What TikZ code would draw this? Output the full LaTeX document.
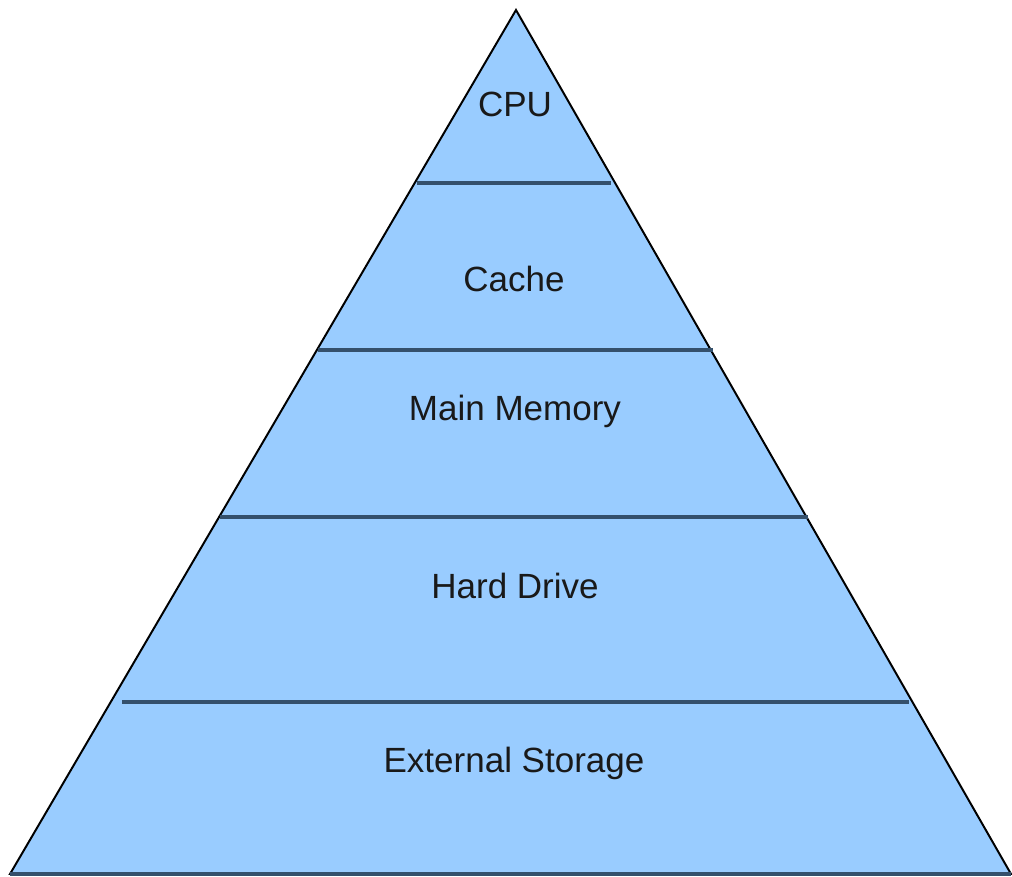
\documentclass[tikz,border=0pt]{standalone}
\usepackage{fontspec}
\setmainfont{Liberation Sans}

\definecolor{levelblue}{HTML}{99CCFF}
\definecolor{levelrule}{HTML}{34506C}

\tikzset{
  level/.style={font=\fontsize{24.9}{30}\selectfont, text=black!90},
  rule/.style={draw=levelrule, line width=2.2pt}
}

\begin{document}
\begin{tikzpicture}[x=0.025cm, y=-0.025cm]

\useasboundingbox (0,0) rectangle (1012,876);

% Spitze und Grundseite
\coordinate (apex) at (516,10);
\coordinate (bl) at (10,874);
\coordinate (br) at (1011,874);

% Pyramide
\filldraw[fill=levelblue, draw=black, line width=1.4pt] (apex) -- (bl) -- (br) -- cycle;
\draw[rule] (bl) -- (br);

% Trennlinien zwischen den Ebenen
\coordinate (l1) at (417,183); \coordinate (r1) at (611,183);
\coordinate (l2) at (318,350); \coordinate (r2) at (713,350);
\coordinate (l3) at (220,517); \coordinate (r3) at (808,517);
\coordinate (l4) at (122,702); \coordinate (r4) at (909,702);
\foreach \i in {1,...,4}
  \draw[rule] (l\i) -- (r\i);

% Beschriftungen der Ebenen
\node[level] (cpu) at (515,104) {CPU};
\node[level] (cache) at (514,279) {Cache};
\node[level] (mem) at (515,411) {Main Memory};
\node[level] (hdd) at (515,586) {Hard Drive};
\node[level] (ext) at (514,763) {External Storage};

\end{tikzpicture}
\end{document}
